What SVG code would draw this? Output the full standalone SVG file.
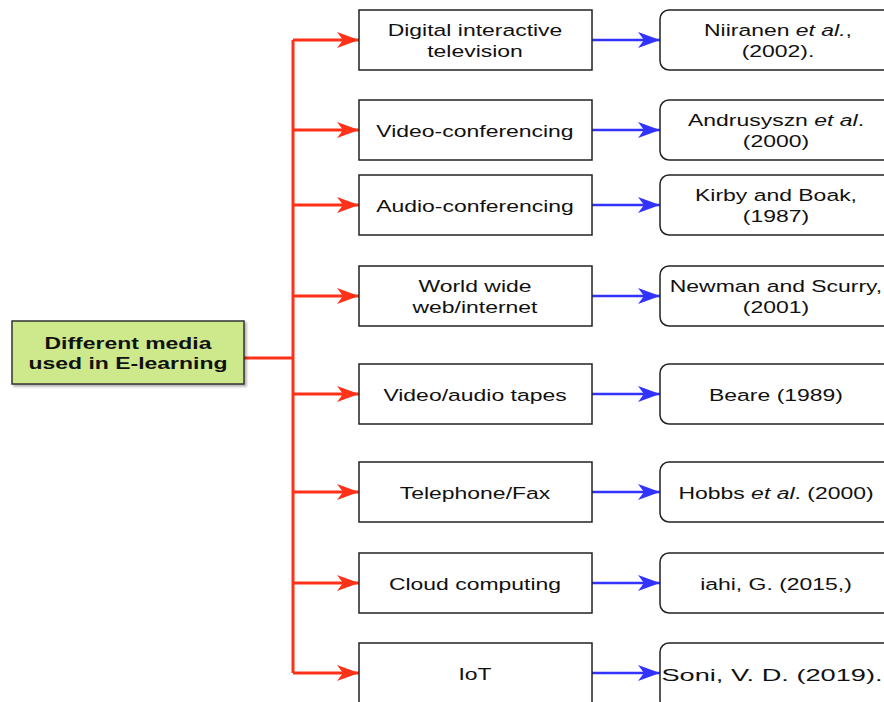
<svg xmlns="http://www.w3.org/2000/svg" width="884" height="702" viewBox="0 0 884 702">
  <defs>
    <marker id="arrRed" viewBox="0 0 22 16" refX="22" refY="8" markerWidth="22" markerHeight="16" markerUnits="userSpaceOnUse" orient="auto">
      <path d="M0,0 L22,8 L0,16 L6,8 Z" fill="#ff3219"/>
    </marker>
    <marker id="arrBlue" viewBox="0 0 22 16" refX="22" refY="8" markerWidth="22" markerHeight="16" markerUnits="userSpaceOnUse" orient="auto">
      <path d="M0,0 L22,8 L0,16 L6,8 Z" fill="#3333ff"/>
    </marker>
    <filter id="shadow" x="-10%" y="-10%" width="130%" height="130%">
      <feDropShadow dx="2" dy="2" stdDeviation="1.2" flood-color="#000" flood-opacity="0.3"/>
    </filter>
  </defs>
  <style>
    text { font-family: "Liberation Sans", Arial, Helvetica, sans-serif; font-size: 17px; fill: #111; text-anchor: middle; }
    .root text { font-weight: bold; }
    .media rect { fill: #fff; stroke: #222; stroke-width: 1.5; }
    .ref rect { fill: #fff; stroke: #222; stroke-width: 1.5; }
    .red { stroke: #ff3219; stroke-width: 3; fill: none; }
    .blue { stroke: #3333ff; stroke-width: 2.5; fill: none; }
  </style>
  <rect width="884" height="702" fill="#fff"/>

  <!-- connectors -->
  <g id="connectors">
    <path class="red" d="M244,358 H293"/>
    <path class="red" d="M293,40 V673"/>
    <path class="red" d="M293,40 H359" marker-end="url(#arrRed)"/>
    <path class="red" d="M293,130 H359" marker-end="url(#arrRed)"/>
    <path class="red" d="M293,205 H359" marker-end="url(#arrRed)"/>
    <path class="red" d="M293,296 H359" marker-end="url(#arrRed)"/>
    <path class="red" d="M293,394 H359" marker-end="url(#arrRed)"/>
    <path class="red" d="M293,492 H359" marker-end="url(#arrRed)"/>
    <path class="red" d="M293,583 H359" marker-end="url(#arrRed)"/>
    <path class="red" d="M293,673 H359" marker-end="url(#arrRed)"/>
    <path class="blue" d="M592,40 H660" marker-end="url(#arrBlue)"/>
    <path class="blue" d="M592,130 H660" marker-end="url(#arrBlue)"/>
    <path class="blue" d="M592,205 H660" marker-end="url(#arrBlue)"/>
    <path class="blue" d="M592,296 H660" marker-end="url(#arrBlue)"/>
    <path class="blue" d="M592,394 H660" marker-end="url(#arrBlue)"/>
    <path class="blue" d="M592,492 H660" marker-end="url(#arrBlue)"/>
    <path class="blue" d="M592,583 H660" marker-end="url(#arrBlue)"/>
    <path class="blue" d="M592,673 H660" marker-end="url(#arrBlue)"/>
  </g>

  <!-- root -->
  <g id="root" class="root">
    <rect x="12" y="321" width="232" height="63" fill="#cde98b" stroke="#333" stroke-width="1.5" filter="url(#shadow)"/>
    <text transform="translate(128 0) scale(1.35 1)" y="349">Different media</text>
    <text transform="translate(128 0) scale(1.35 1)" y="369">used in E-learning</text>
  </g>

  <!-- media nodes -->
  <g id="media-dit" class="media">
    <rect x="359" y="10" width="233" height="60"/>
    <text transform="translate(475 0) scale(1.35 1)" y="36">Digital interactive</text>
    <text transform="translate(475 0) scale(1.35 1)" y="57">television</text>
  </g>
  <g id="media-video" class="media">
    <rect x="359" y="100" width="233" height="60"/>
    <text transform="translate(475 0) scale(1.35 1)" y="137">Video-conferencing</text>
  </g>
  <g id="media-audio" class="media">
    <rect x="359" y="175" width="233" height="60"/>
    <text transform="translate(475 0) scale(1.35 1)" y="212">Audio-conferencing</text>
  </g>
  <g id="media-web" class="media">
    <rect x="359" y="266" width="233" height="60"/>
    <text transform="translate(475 0) scale(1.35 1)" y="292">World wide</text>
    <text transform="translate(475 0) scale(1.35 1)" y="313">web/internet</text>
  </g>
  <g id="media-tapes" class="media">
    <rect x="359" y="364" width="233" height="60"/>
    <text transform="translate(475 0) scale(1.35 1)" y="401">Video/audio tapes</text>
  </g>
  <g id="media-phone" class="media">
    <rect x="359" y="462" width="233" height="60"/>
    <text transform="translate(475 0) scale(1.35 1)" y="499">Telephone/Fax</text>
  </g>
  <g id="media-cloud" class="media">
    <rect x="359" y="553" width="233" height="60"/>
    <text transform="translate(475 0) scale(1.35 1)" y="590">Cloud computing</text>
  </g>
  <g id="media-iot" class="media">
    <rect x="359" y="643" width="233" height="66"/>
    <text transform="translate(475 0) scale(1.35 1)" y="680">IoT</text>
  </g>

  <!-- reference nodes -->
  <g id="ref-niiranen" class="ref">
    <rect x="660" y="10" width="240" height="60" rx="9"/>
    <text transform="translate(778 0) scale(1.35 1)" y="36">Niiranen <tspan font-style="italic">et al.</tspan>,</text>
    <text transform="translate(778 0) scale(1.35 1)" y="57">(2002).</text>
  </g>
  <g id="ref-andrusyszn" class="ref">
    <rect x="660" y="100" width="240" height="60" rx="9"/>
    <text transform="translate(776 0) scale(1.35 1)" y="126">Andrusyszn <tspan font-style="italic">et al</tspan>.</text>
    <text transform="translate(776 0) scale(1.35 1)" y="147">(2000)</text>
  </g>
  <g id="ref-kirby" class="ref">
    <rect x="660" y="175" width="240" height="60" rx="9"/>
    <text transform="translate(776 0) scale(1.35 1)" y="201">Kirby and Boak,</text>
    <text transform="translate(776 0) scale(1.35 1)" y="222">(1987)</text>
  </g>
  <g id="ref-newman" class="ref">
    <rect x="660" y="266" width="240" height="60" rx="9"/>
    <text transform="translate(776 0) scale(1.35 1)" y="292">Newman and Scurry,</text>
    <text transform="translate(776 0) scale(1.35 1)" y="313">(2001)</text>
  </g>
  <g id="ref-beare" class="ref">
    <rect x="660" y="364" width="240" height="60" rx="9"/>
    <text transform="translate(776 0) scale(1.35 1)" y="401">Beare (1989)</text>
  </g>
  <g id="ref-hobbs" class="ref">
    <rect x="660" y="462" width="240" height="60" rx="9"/>
    <text transform="translate(776 0) scale(1.35 1)" y="499">Hobbs <tspan font-style="italic">et al</tspan>. (2000)</text>
  </g>
  <g id="ref-iahi" class="ref">
    <rect x="660" y="553" width="240" height="60" rx="9"/>
    <text transform="translate(776 0) scale(1.35 1)" y="590">iahi, G. (2015,)</text>
  </g>
  <g id="ref-soni" class="ref">
    <rect x="660" y="643" width="240" height="66" rx="9"/>
    <text transform="translate(772 0) scale(1.6 1)" y="681" font-size="19.5">Soni, V. D. (2019).</text>
  </g>
</svg>
